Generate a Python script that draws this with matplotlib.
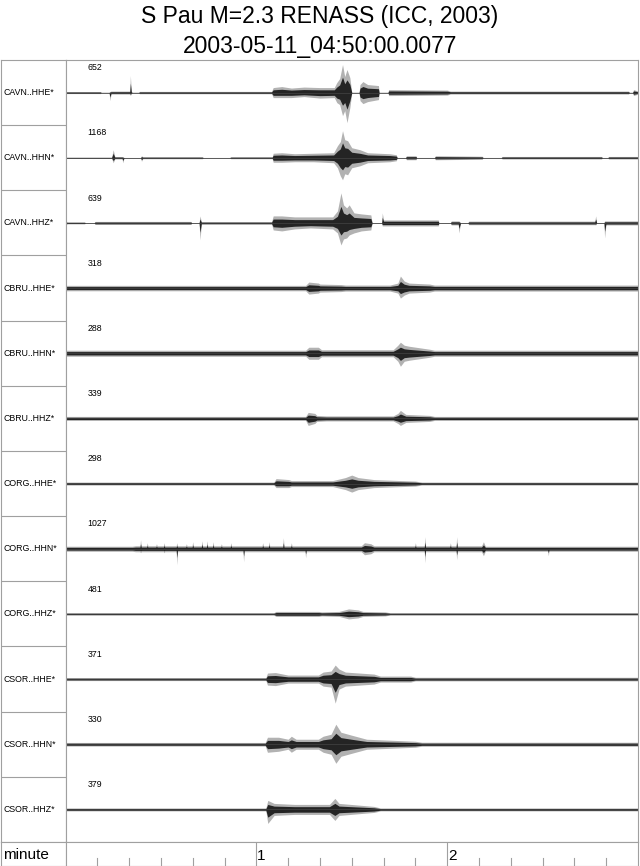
import matplotlib
matplotlib.use('Agg')
import matplotlib.pyplot as plt
import numpy as np

plt.rcParams['font.family'] = ['Liberation Sans', 'DejaVu Sans']

# ---------------------------------------------------------------
# chart data: envelope of every trace
# each point: (time [s], upper amplitude, lower amplitude), amplitudes in
# 1/65 of a trace row
title1 = 'S Pau M=2.3 RENASS (ICC, 2003)'
title2 = '2003-05-11_04:50:00.0077'

channels = ['CAVN..HHE*', 'CAVN..HHN*', 'CAVN..HHZ*',
            'CBRU..HHE*', 'CBRU..HHN*', 'CBRU..HHZ*',
            'CORG..HHE*', 'CORG..HHN*', 'CORG..HHZ*',
            'CSOR..HHE*', 'CSOR..HHN*', 'CSOR..HHZ*']
amp_labels = ['652', '1168', '639', '318', '288', '339',
              '298', '1027', '481', '371', '330', '379']

cavn_hhe = [(0, 1, 1), (11, 1, 1), (11.2, .3, .3), (13.7, .3, .3), (14, 1, 8), (14.3, 1.5, 1.5),
            (20.2, 1.5, 1.5), (20.4, 17, 3), (20.7, 1, 1), (21, .3, .3), (23, .3, .3), (23.3, 1.2, 1.2),
            (64.8, 1.2, 1.2), (65.3, 5, 5), (68, 6, 5), (71, 4.5, 5), (75, 5.5, 4), (80, 5, 5.5),
            (84.5, 5, 5), (85.3, 10, 10), (86.2, 14, 12), (87.1, 28, 23), (87.8, 16, 18), (88.5, 23, 30),
            (89.4, 15, 15), (90, .3, .3), (92.3, .3, .3), (92.6, 8, 8), (93.5, 11, 11), (95, 8, 9),
            (98.4, 7, 7), (98.6, .3, .3), (101.4, .3, .3), (101.6, 3, 3), (120, 2.5, 2.5),
            (121, 1.5, 1.5), (177, 1.5, 1.5), (177.3, .3, .3), (178.3, .3, .3), (178.6, 3, 3),
            (180, 1.5, 1.5)]
cavn_hhn = [(0, .6, .6), (14.5, .6, .6), (15, 8, 5), (15.5, 1.2, 1.2), (17.8, 1.2, 1.2), (18, 1, 5),
            (18.4, .3, .3), (23.6, .3, .3), (23.9, 2, 3.5), (24.3, 1, 1), (43, 1, 1), (43.3, .3, .3),
            (51.6, .3, .3), (52, 1, 1), (65, 1, 1), (65.3, 4.5, 4.5), (68, 5, 4.5), (72, 4, 4),
            (78, 4.5, 4), (84.3, 5, 5), (85.5, 12, 10), (86.4, 16, 18), (87.1, 27, 22), (87.8, 18, 16),
            (88.7, 17, 17), (90, 10, 10), (92.6, 8, 8), (95, 5, 5), (102, 4, 4), (104, 3, 3),
            (104.3, .3, .3), (106.9, .3, .3), (107.2, 2, 2), (110.2, 2, 2), (110.4, .3, .3),
            (116, .3, .3), (116.3, 2, 2), (131, 1.5, 1.5), (131.3, .3, .3), (137, .3, .3),
            (137.3, 1.3, 1.3), (168.5, 1.3, 1.3), (168.8, .3, .3), (170.5, .3, .3), (170.8, 1.3, 1.3),
            (180, 1.3, 1.3)]
cavn_hhz = [(0, 5, 5), (0.4, 1, 1), (6, 1, 1), (6.2, .3, .3), (9, .3, .3), (9.3, 1.5, 1.5),
            (39.4, 1.5, 1.5), (39.7, .3, .3), (42, .3, .3), (42.3, 7, 17), (42.7, 1.3, 1.3),
            (64.8, 1.3, 1.3), (65.3, 7, 7), (68, 7, 8), (72, 6, 6), (77, 6, 5), (84, 6, 6),
            (85.5, 12, 10), (86.6, 30, 22), (87.4, 18, 16), (88.4, 15, 15), (89.2, 18, 12),
            (90.7, 10, 10), (93, 9, 8), (96, 8, 7), (96.4, .3, .3), (99.4, .3, .3), (99.6, 10, 3),
            (100, 3, 3), (117.2, 3, 3), (117.4, .3, .3), (121, .3, .3), (121.3, 2, 2), (123.5, 2, 2),
            (123.7, 2, 10), (124.2, .3, .3), (126.5, .3, .3), (126.8, 1.8, 1.8), (166.4, 1.8, 1.8),
            (166.7, 7, 2), (167, .3, .3), (169.3, .3, .3), (169.5, 2, 15), (169.9, 2, 2), (180, 2, 2)]
cbru_hhe = [(0, 2.7, 2.7), (75.5, 2.7, 2.7), (76.5, 6, 6), (79.5, 5, 5), (80, 4, 4), (86.6, 3.5, 3.5),
            (88, 3, 3), (102, 3, 3), (104.5, 5, 5), (105.3, 12, 10), (106.5, 7, 7), (108, 5, 5),
            (114.5, 4, 4), (116, 3, 3), (180, 3, 3)]
cbru_hhn = [(0, 3, 3), (75.5, 3, 3), (76.5, 6, 6), (79.5, 6, 6), (80.5, 3.5, 3.5), (103, 3.5, 3.5),
            (104.5, 8, 8), (105.3, 11, 13), (106.5, 8, 8), (108, 7, 7), (114.5, 4, 4), (116, 3, 3),
            (180, 3, 3)]
cbru_hhz = [(0, 2, 2), (75.5, 2, 2), (76.3, 6, 7), (78.4, 5, 5), (79, 3, 3), (82, 2.5, 2.5),
            (103, 2.5, 2.5), (104.5, 5, 5), (105.3, 8, 7), (107, 4, 4), (114.5, 3, 3), (116, 2, 2),
            (180, 2, 2)]
corg_hhe = [(0, 1.5, 1.5), (65.5, 1.5, 1.5), (66.2, 5, 4), (70.2, 4, 4), (71, 3, 3), (84, 3, 3),
            (88, 6, 6), (90, 8.5, 8.5), (92, 6, 6), (97, 4, 4), (110, 2.5, 2.5), (112, 1.5, 1.5),
            (180, 1.5, 1.5)]
corg_hhn = [(0, 2.5, 2.5), (21, 2.5, 2.5), (22, 3, 3), (23.4, 3, 3), (23.6, 9, 4), (23.8, 3, 3),
            (25.5, 3, 3), (25.7, 6, 3), (25.9, 3, 3), (28.4, 3, 3), (28.6, 5, 3), (28.8, 3, 3),
            (30.8, 3, 3), (31, 6, 4), (31.2, 3, 3), (34.8, 3, 3), (35, 6, 16), (35.2, 3, 3),
            (37.8, 3, 3), (38, 5, 3), (38.2, 3, 3), (39.8, 3, 3), (40, 7, 3), (40.2, 3, 3),
            (42.7, 3, 3), (42.9, 8, 3), (43.1, 3, 3), (44.3, 3, 3), (44.5, 8, 3), (44.7, 3, 3),
            (46.2, 3, 3), (46.4, 7, 3), (46.6, 3, 3), (48.8, 3, 3), (49, 5, 3), (49.2, 3, 3),
            (51.8, 3, 3), (52, 6, 3), (52.2, 3, 3), (55.8, 3, 3), (56, 3, 13), (56.2, 3, 3),
            (61.8, 3, 3), (62, 6, 3), (62.2, 3, 3), (63.8, 3, 3), (64, 7, 3), (64.2, 3, 3),
            (68.3, 3, 3), (68.5, 11, 3), (68.7, 3, 3), (70.8, 3, 3), (71, 6, 3), (71.2, 3, 3),
            (75.3, 3, 3), (75.5, 3, 9), (75.7, 3, 3), (93, 3, 3), (94, 6, 6), (96, 5, 5), (97, 3, 3),
            (109.8, 3, 3), (110, 6, 3), (110.2, 3, 3), (112.8, 3, 3), (113, 12, 14), (113.2, 3, 3),
            (120.8, 3, 3), (121, 6, 3), (121.2, 3, 3), (122.8, 3, 3), (123, 12, 11), (123.2, 3, 3),
            (130.8, 3, 3), (131.4, 7, 7), (132, 2.5, 2.5), (151.6, 2.5, 2.5), (151.8, 2.5, 7),
            (152, 2.5, 2.5), (180, 2.5, 2.5)]
corg_hhz = [(0, 1.2, 1.2), (65.5, 1.2, 1.2), (66.2, 2.5, 2.5), (79.6, 2.5, 2.5), (80.5, 2, 2),
            (86, 2.5, 2.5), (89, 5, 5), (92, 4, 4), (93.5, 2.5, 2.5), (100.5, 2, 2), (102, 1.2, 1.2),
            (180, 1.2, 1.2)]
csor_hhe = [(0, 1.5, 1.5), (63, 1.5, 1.5), (63.5, 6, 6), (66, 6.5, 6.5), (70, 4, 4), (79.5, 4, 4),
            (81, 7, 7), (83.5, 8, 8), (84.8, 14, 24), (86, 10, 10), (88, 7, 7), (97, 5, 5), (99, 3, 3),
            (108.5, 3, 3), (110, 1.8, 1.8), (180, 1.8, 1.8)]
csor_hhn = [(0, 1.8, 1.8), (62.8, 1.8, 1.8), (63.5, 7, 8), (67, 7, 7), (70, 5, 5), (71, 8, 8),
            (72.5, 5, 5), (79.5, 5, 5), (81, 8, 8), (83.5, 10, 10), (85, 20, 19), (86.6, 12, 12),
            (90, 9, 9), (94.7, 5, 5), (110, 3, 3), (112, 2, 2), (180, 2, 2)]
csor_hhz = [(0, 1.5, 1.5), (63, 1.5, 1.5), (63.6, 9, 14), (65.6, 6, 6), (72, 5, 5), (83, 5, 5),
            (84.7, 11, 11), (86, 6, 6), (97, 3, 3), (99, 1.5, 1.5), (180, 1.5, 1.5)]

traces = [cavn_hhe, cavn_hhn, cavn_hhz, cbru_hhe, cbru_hhn, cbru_hhz,
          corg_hhe, corg_hhn, corg_hhz, csor_hhe, csor_hhn, csor_hhz]

##################################################################

W, H = 640, 866
fig = plt.figure(figsize=(W / 100, H / 100), dpi=100)

def box(x0, y0, x1, y1):
	# axes from pixel box (top-left origin)
	return fig.add_axes([x0 / W, 1 - y1 / H, (x1 - x0) / W, (y1 - y0) / H])

grey = '#a0a0a0'
top, bot = 60, 842
left, right = 65.5, 638
nrow = len(channels)

fig.text(0.5, 1 - 16 / H, title1, ha='center', va='center', fontsize=16.5)
fig.text(0.5, 1 - 46 / H, title2, ha='center', va='center', fontsize=16.5)

# label column
axl = box(0.5, top, left, bot)
axl.set_xlim(0, 1)
axl.set_ylim(nrow, 0)
axl.set_xticks([])
axl.set_yticks([])
for s in axl.spines.values():
	s.set_color(grey)
for i in range(1, nrow):
	axl.axhline(i, color=grey, lw=0.8)
for i, ch in enumerate(channels):
	axl.text(0.04, i + 0.5, ch, fontsize=6.3, va='center', ha='left')

# traces
ax = box(left, top, right, bot)
ax.set_xlim(0, 180)
ax.set_ylim(nrow, 0)
ax.set_xticks([])
ax.set_yticks([])
for s in ax.spines.values():
	s.set_color(grey)
for i, tr in enumerate(traces):
	arr = np.array(tr, dtype=float)
	t, up, dn = arr[:, 0], arr[:, 1] / 65.0, arr[:, 2] / 65.0
	base = i + 0.5
	ax.fill_between(t, base - up, base + dn, color='black', alpha=0.3, lw=0)
	ax.fill_between(t, base - 0.55 * up, base + 0.55 * dn, color='black', alpha=0.8, lw=0)
	ax.plot([0, 180], [base, base], color='#444444', lw=0.5)
	ax.text(7.0, i + 0.12, amp_labels[i], fontsize=6.3, va='center', ha='left')

# minute axis
axm_lab = box(0.5, bot, left, H - 0.5)
axm_lab.set_xticks([])
axm_lab.set_yticks([])
for s in axm_lab.spines.values():
	s.set_color(grey)
axm_lab.text(0.04, 0.45, 'minute', fontsize=11, va='center', ha='left', transform=axm_lab.transAxes)

axm = box(left, bot, right, H - 0.5)
axm.set_xlim(0, 3)
axm.set_ylim(0, 1)
axm.set_xticks([])
axm.set_yticks([])
for s in axm.spines.values():
	s.set_color(grey)
for k in range(1, 18):
	if k % 6 == 0:
		axm.plot([k / 6, k / 6], [0, 1], color=grey, lw=0.8)
		axm.text(k / 6 + 0.005, 0.4, str(k // 6), fontsize=11, va='center', ha='left')
	else:
		axm.plot([k / 6, k / 6], [0, 0.3], color=grey, lw=0.8)

fig.savefig('out.png', dpi=100)
